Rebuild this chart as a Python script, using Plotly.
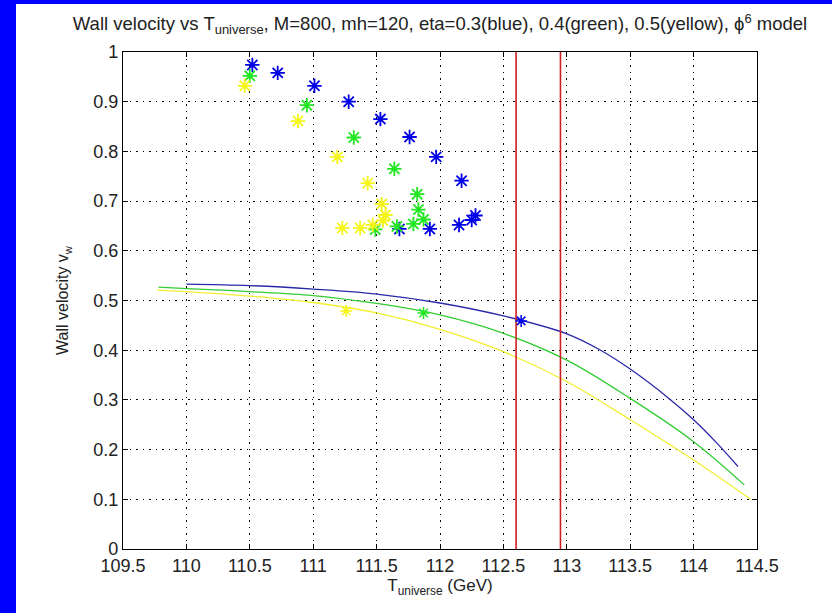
import plotly.graph_objects as go

# Bubble-wall velocity scan points (asterisks) for three eta values
blue_pts_T = [110.52, 110.72, 111.01, 111.28, 111.53, 111.76, 111.97, 112.17, 112.28, 112.25, 112.15, 111.92, 111.68]
blue_pts_v = [0.974, 0.958, 0.932, 0.900, 0.865, 0.829, 0.789, 0.741, 0.671, 0.662, 0.652, 0.644, 0.644]

green_pts_T = [110.50, 110.95, 111.32, 111.64, 111.82, 111.83, 111.87, 111.79, 111.66, 111.49]
green_pts_v = [0.952, 0.893, 0.828, 0.765, 0.714, 0.683, 0.663, 0.654, 0.649, 0.643]

yellow_pts_T = [110.46, 110.88, 111.19, 111.43, 111.54, 111.57, 111.55, 111.47, 111.37, 111.23]
yellow_pts_v = [0.932, 0.861, 0.789, 0.736, 0.694, 0.672, 0.661, 0.652, 0.646, 0.646]

# Continuous wall-velocity curves
blue_curve_T = [110.0, 110.5, 111.0, 111.5, 112.0, 112.5, 113.0, 113.26, 113.5, 113.81, 114.0, 114.18, 114.35]
blue_curve_v = [0.533, 0.530, 0.523, 0.513, 0.495, 0.469, 0.433, 0.401, 0.362, 0.302, 0.260, 0.214, 0.166]

green_curve_T = [109.78, 110.0, 110.5, 111.0, 111.5, 112.0, 112.5, 113.0, 113.5, 114.0, 114.4]
green_curve_v = [0.527, 0.524, 0.518, 0.510, 0.494, 0.471, 0.434, 0.380, 0.303, 0.216, 0.129]

yellow_curve_T = [109.77, 110.0, 110.5, 111.0, 111.5, 112.0, 112.5, 113.0, 113.5, 114.0, 114.45]
yellow_curve_v = [0.521, 0.518, 0.509, 0.496, 0.475, 0.442, 0.397, 0.337, 0.260, 0.179, 0.100]

# Single marked points lying on each curve
curve_mark_T = [112.64, 111.87, 111.26]
curve_mark_v = [0.459, 0.475, 0.479]

# Vertical reference temperatures
vline_T = [112.6, 112.95]

x_ticks = [109.5, 110, 110.5, 111, 111.5, 112, 112.5, 113, 113.5, 114, 114.5]
x_tick_text = ["109.5", "110", "110.5", "111", "111.5", "112", "112.5", "113", "113.5", "114", "114.5"]
y_ticks = [0, 0.1, 0.2, 0.3, 0.4, 0.5, 0.6, 0.7, 0.8, 0.9, 1]
y_tick_text = ["0", "0.1", "0.2", "0.3", "0.4", "0.5", "0.6", "0.7", "0.8", "0.9", "1"]

BLUE_M, GREEN_M, YELLOW_M = "#0000e6", "#22e622", "#f5f51a"
BLUE_L, GREEN_L, YELLOW_L = "#2a2aa8", "#33cc33", "#f0f030"
RED = "#cc2020"
FONT = "Liberation Sans, Arial, sans-serif"

fig = go.Figure()

for T, v, col in [(blue_curve_T, blue_curve_v, BLUE_L),
                  (green_curve_T, green_curve_v, GREEN_L),
                  (yellow_curve_T, yellow_curve_v, YELLOW_L)]:
    fig.add_trace(go.Scatter(x=T, y=v, mode="lines",
                             line=dict(color=col, width=1.3, shape="spline", smoothing=1.0),
                             showlegend=False, hoverinfo="skip"))

for T0 in vline_T:
    fig.add_trace(go.Scatter(x=[T0, T0], y=[0, 1], mode="lines", line=dict(color=RED, width=1.6),
                             showlegend=False, hoverinfo="skip"))

for T, v, col in [(blue_pts_T, blue_pts_v, BLUE_M),
                  (green_pts_T, green_pts_v, GREEN_M),
                  (yellow_pts_T, yellow_pts_v, YELLOW_M)]:
    fig.add_trace(go.Scatter(x=T, y=v, mode="markers",
                             marker=dict(symbol="asterisk-open", size=12, color=col,
                                         line=dict(color=col, width=1.8)),
                             showlegend=False))

for T, v, col in zip(curve_mark_T, curve_mark_v, [BLUE_M, GREEN_M, YELLOW_M]):
    fig.add_trace(go.Scatter(x=[T], y=[v], mode="markers",
                             marker=dict(symbol="asterisk-open", size=10, color=col,
                                         line=dict(color=col, width=1.5)),
                             showlegend=False))

axis_common = dict(
    showline=True, linecolor="black", linewidth=1.2, mirror="ticks",
    ticks="inside", ticklen=5, tickcolor="black", tickwidth=1.2,
    showgrid=True, gridcolor="black", gridwidth=1, griddash="1.5px,5px",
    zeroline=False, tickfont=dict(family=FONT, size=18, color="#222222"),
)

fig.update_xaxes(range=[109.5, 114.5], tickvals=x_ticks, ticktext=x_tick_text,
                 title=dict(text="T<sub>universe</sub> (GeV)", font=dict(family=FONT, size=17, color="#222222"),
                            standoff=4),
                 **axis_common)
fig.update_yaxes(range=[0, 1], tickvals=y_ticks, ticktext=y_tick_text,
                 title=dict(text="Wall velocity v<sub>w</sub>", font=dict(family=FONT, size=16, color="#222222"),
                            standoff=20),
                 **axis_common)

# Blue frame strips along the left and top edges of the page
L, R, T, B = 123, 75, 52, 64
pw, ph = 832 - L - R, 613 - T - B
def px_x(p):
    return (p - L) / pw
def px_y(p):
    return (613 - B - p) / ph

fig.add_shape(type="rect", xref="paper", yref="paper", x0=px_x(-2), x1=px_x(16),
              y0=px_y(615), y1=px_y(-2), fillcolor="#0000fe", line=dict(width=0), layer="below")
fig.add_shape(type="rect", xref="paper", yref="paper", x0=px_x(-2), x1=px_x(834),
              y0=px_y(4), y1=px_y(-2), fillcolor="#0000fe", line=dict(width=0), layer="below")

fig.update_layout(
    width=832, height=613,
    margin=dict(l=L, r=R, t=T, b=B),
    paper_bgcolor="white", plot_bgcolor="white",
    title=dict(text="Wall velocity vs T<sub>universe</sub>, M=800, mh=120, eta=0.3(blue), 0.4(green), 0.5(yellow), \u03d5<sup>6</sup> model",
               font=dict(family=FONT, size=18.5, color="#222222"),
               x=px_x(440), xref="paper", xanchor="center",
               y=1 - 24 / 613, yref="container", yanchor="middle"),
)

fig.write_html("out.html")
